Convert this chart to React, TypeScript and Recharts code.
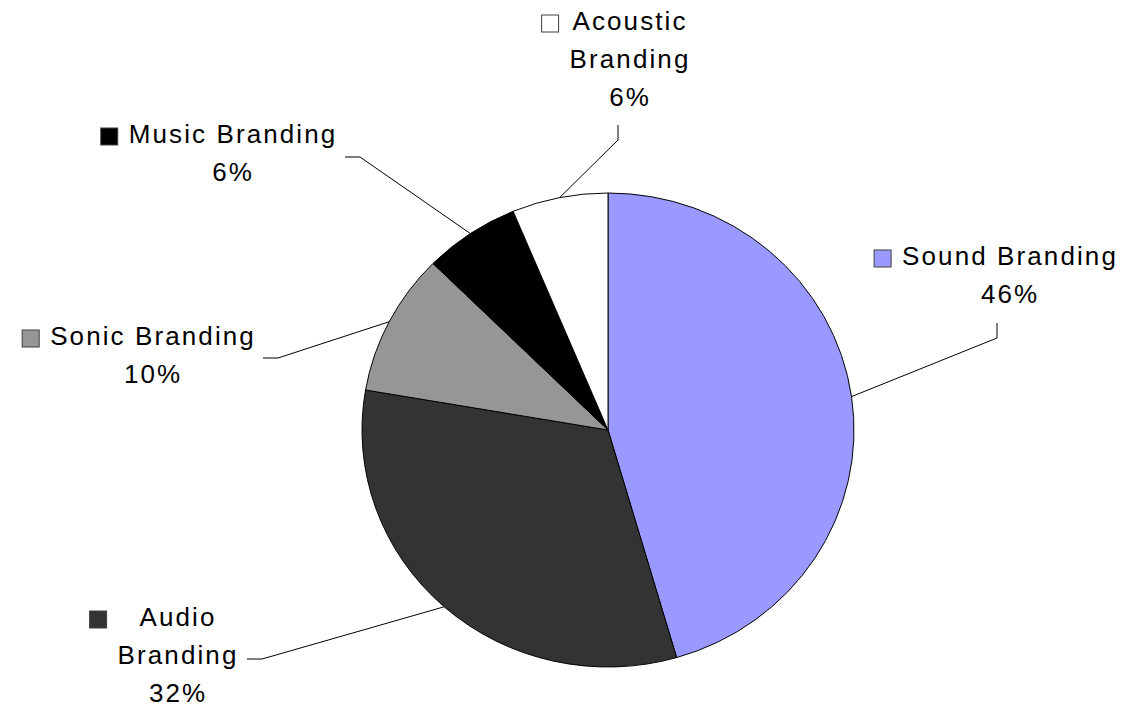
import React from 'react';
import { PieChart, Pie, Cell } from 'recharts';

const categories = ['Sound Branding', 'Audio Branding', 'Sonic Branding', 'Music Branding', 'Acoustic Branding'];
const shares = [45.5, 32.2, 9.7, 6.3, 6.3];
const colors = ['#9999FF', '#333333', '#969696', '#000000', '#FFFFFF'];

const data = categories.map((name, i) => ({ name, value: shares[i] }));

const W = 1124;
const H = 706;
const CX = 608;
const CY = 430;
const RX = 246;
const RY = 237;
const SQUASH = RY / RX;

const FONT = "'Liberation Sans', Arial, sans-serif";
const FONT_SIZE = 26;
const LETTER = 2.1;
const LINE = 38.2;
const KEY = 17;
const RAD = Math.PI / 180;

// where each label block sits: centre x, first baseline, whether the name wraps,
// and the leader's end point plus its short elbow
const labelLayout = [
  { x: 1009, y: 265, wrap: false, end: [997, 323], elbow: [997, 338] },
  { x: 177, y: 626, wrap: true, end: [247, 659], elbow: [262, 659] },
  { x: 152, y: 345, wrap: false, end: [263, 358], elbow: [278, 358] },
  { x: 232, y: 143, wrap: false, end: [345, 157], elbow: [360, 157] },
  { x: 629, y: 30, wrap: true, end: [618, 125], elbow: [618, 140] },
];

let ctx: CanvasRenderingContext2D | null = null;
const measure = (s: string) => {
  if (!ctx) ctx = document.createElement('canvas').getContext('2d');
  if (!ctx) return s.length * FONT_SIZE * 0.55;
  ctx.font = `${FONT_SIZE}px "Liberation Sans"`;
  return ctx.measureText(s).width + LETTER * (s.length - 1);
};

const renderLabel = (props: any) => {
  const { cx, cy, midAngle, index, percent, name } = props;
  const layout = labelLayout[index];
  if (!layout) return null;

  const lines = layout.wrap ? String(name).split(' ') : [String(name)];
  lines.push(`${Math.round(percent * 100)}%`);
  const widest = Math.max(...lines.map(measure));

  const sx = cx + RX * Math.cos(-midAngle * RAD);
  const sy = cy + RY * Math.sin(-midAngle * RAD);

  const keyX = layout.x - widest / 2 - 11 - KEY;
  const keyY = layout.y - 15;

  return (
    <g key={`label-${index}`}>
      <polyline
        points={`${sx},${sy} ${layout.elbow[0]},${layout.elbow[1]} ${layout.end[0]},${layout.end[1]}`}
        fill="none"
        stroke="#000"
        strokeWidth={1}
      />
      <rect x={keyX} y={keyY} width={KEY} height={KEY} fill={colors[index]} stroke="#404040" strokeWidth={1} />
      {lines.map((line, i) => (
        <text
          key={i}
          x={layout.x + LETTER / 2}
          y={layout.y + i * LINE}
          textAnchor="middle"
          fontFamily={FONT}
          fontSize={FONT_SIZE}
          fill="#000"
          style={{ letterSpacing: LETTER }}
        >
          {line}
        </text>
      ))}
    </g>
  );
};

export default function App() {
  return (
    <div style={{ position: 'absolute', left: 0, top: 0, width: W, height: H, background: '#fff' }}>
      <style>{`.recharts-sector{transform-box:view-box;transform-origin:${CX}px ${CY}px;transform:scaleY(${SQUASH});}`}</style>
      <PieChart width={W} height={H} margin={{ top: 0, right: 0, bottom: 0, left: 0 }}>
        <Pie
          data={data}
          dataKey="value"
          nameKey="name"
          cx={CX}
          cy={CY}
          outerRadius={RX}
          startAngle={90}
          endAngle={-270}
          stroke="#000"
          strokeWidth={1}
          label={renderLabel}
          labelLine={false}
          isAnimationActive={false}
        >
          {data.map((d, i) => (
            <Cell key={d.name} fill={colors[i]} />
          ))}
        </Pie>
      </PieChart>
    </div>
  );
}
